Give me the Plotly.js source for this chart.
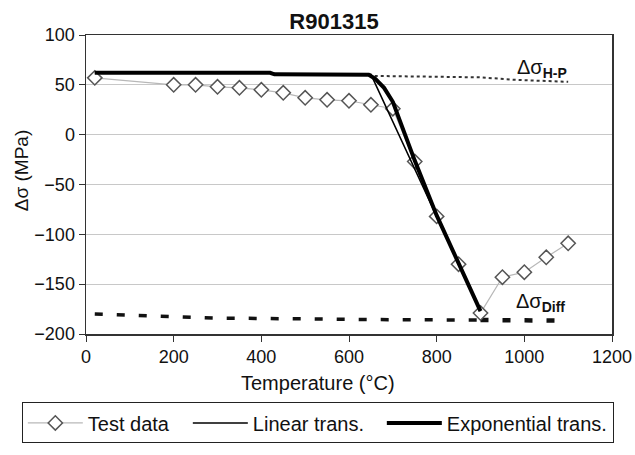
<!DOCTYPE html>
<html>
<head>
<meta charset="utf-8">
<script src="https://cdn.plot.ly/plotly-3.0.1.min.js"></script>
<style>html,body{margin:0;padding:0;background:#fff;}#chart{width:635px;height:455px;}</style>
</head>
<body>
<div id="chart"></div>
<script>
// Test data
var testT = [20, 200, 250, 300, 350, 400, 450, 500, 550, 600, 650, 700, 750, 800, 850, 900, 950, 1000, 1050, 1100];
var testS = [57, 50, 50, 48, 47, 45, 42, 37, 35, 34, 30, 26, -27, -82, -130, -179, -143, -138, -123, -109];
// Linear transformation model
var linT = [20, 420, 430, 650, 900];
var linS = [62, 62, 60.5, 60.5, -177];
// Exponential transformation model
var expT = [20, 420, 430, 635, 645, 660, 680, 700, 725, 750, 800, 850, 900];
var expS = [62, 62, 60.5, 60.5, 60, 56, 47, 33, 4, -26, -81, -130, -177];
// Hall-Petch contribution (dotted)
var hpT = [645, 900, 980, 1100];
var hpS = [59, 57.5, 55, 53];
// Diffusion contribution (dashed)
var diffT = [20, 150, 300, 650, 900];
var diffS = [-180, -182, -184, -185.5, -186];
var diffT2 = [900, 1070];
var diffS2 = [-186, -186.5];
// labels
var xTicks = [0, 200, 400, 600, 800, 1000, 1200];
var yTicks = [-200, -150, -100, -50, 0, 50, 100];

var FONT = 'Liberation Sans, Arial, sans-serif';

var traces = [
  {x: hpT, y: hpS, mode: 'lines', line: {color: '#333', width: 2, dash: 'dot'}, showlegend: false, hoverinfo: 'skip'},
  {x: diffT, y: diffS, mode: 'lines', line: {color: '#111', width: 3.5, dash: '8px,14px'}, showlegend: false, hoverinfo: 'skip'},
  {x: diffT2, y: diffS2, mode: 'lines', line: {color: '#111', width: 4.5, dash: '8px,14px'}, showlegend: false, hoverinfo: 'skip'},
  {x: testT, y: testS, name: 'Test data', mode: 'lines+markers',
   line: {color: '#b8b8b8', width: 1.2},
   marker: {symbol: 'diamond', size: 11, color: '#ffffff', line: {color: '#555', width: 1.5}},
   legendwidth: 95},
  {x: linT, y: linS, name: 'Linear trans.', mode: 'lines', line: {color: '#000', width: 1.5}, legendwidth: 124},
  {x: expT, y: expS, name: 'Exponential trans.', mode: 'lines', line: {color: '#000', width: 4}}
];

var layout = {
  width: 635, height: 455,
  margin: {l: 86, r: 23, t: 35, b: 106},
  paper_bgcolor: '#fff', plot_bgcolor: '#fff',
  font: {family: FONT, color: '#111', size: 18},
  title: {text: '<b>R901315</b>', font: {family: FONT, size: 22, color: '#111'}, x: 334/635, xanchor: 'center', y: 1 - 21/455, yanchor: 'middle'},
  xaxis: {range: [0, 1200], tickvals: xTicks, ticktext: xTicks.map(String), ticks: 'outside', ticklen: 6, tickcolor: '#333',
          showline: true, linecolor: '#333', linewidth: 1.5, mirror: true, showgrid: false, zeroline: false,
          tickfont: {family: FONT, size: 18, color: '#111'}},
  yaxis: {range: [-200, 100], tickvals: yTicks, ticks: 'outside', ticklen: 6, tickcolor: '#333',
          showline: true, linecolor: '#333', linewidth: 1.5, mirror: true, showgrid: true, gridcolor: '#c8c8c8', gridwidth: 1,
          zeroline: false, tickfont: {family: FONT, size: 18, color: '#111'}},
  showlegend: true,
  legend: {orientation: 'h', x: -0.122, xanchor: 'left', y: -0.229, yanchor: 'top', itemwidth: 55,
           bordercolor: '#222', borderwidth: 1, bgcolor: '#fff', font: {family: FONT, size: 20, color: '#111'},
           traceorder: 'normal', itemclick: false},
  annotations: [
    {text: 'Temperature (°C)', xref: 'paper', yref: 'paper', x: (318-86)/526, y: (349-400)/314, xanchor: 'center', yanchor: 'middle', showarrow: false, font: {family: FONT, size: 20, color: '#111'}},
    {text: 'Δσ (MPa)', xref: 'paper', yref: 'paper', x: (21-86)/526, y: (349-178)/314, xanchor: 'center', yanchor: 'middle', textangle: -90, showarrow: false, font: {family: FONT, size: 19, color: '#111'}},
    {text: 'Δσ<sub><b>H-P</b></sub>', x: 1040, y: 66, xanchor: 'center', yanchor: 'middle', showarrow: false, font: {family: FONT, size: 20, color: '#111'}},
    {text: 'Δσ<sub><b>Diff</b></sub>', x: 1038, y: -168, xanchor: 'center', yanchor: 'middle', showarrow: false, font: {family: FONT, size: 20, color: '#111'}}
  ]
};

Plotly.newPlot('chart', traces, layout, {displayModeBar: false, staticPlot: true});
</script>
</body>
</html>
